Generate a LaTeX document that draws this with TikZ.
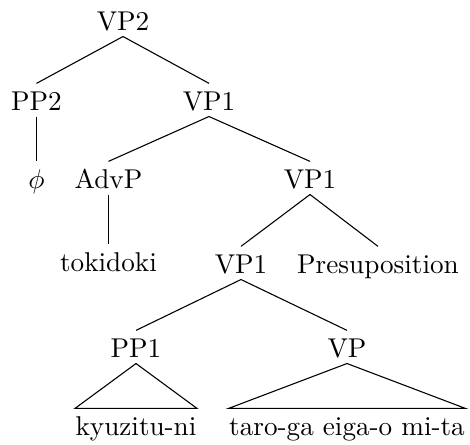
\documentclass[tikz,border=0pt]{standalone}
\begin{document}
\begin{tikzpicture}[x=0.368pt,y=-0.368pt,
  lbl/.style={inner sep=0pt,anchor=base,text height=9.6pt,text depth=2.2pt},
  edge/.style={line width=0.4pt}]
\useasboundingbox (0,0) rectangle (470,444);
\node[lbl] (vp2) at (123,30) {VP2};
\node[lbl] (pp2) at (36.5,110) {PP2};
\node[lbl] (vp1a) at (209,110) {VP1};
\node[lbl] (phi) at (36.5,188) {$\phi$};
\node[lbl] (advp) at (108.5,188) {AdvP};
\node[lbl] (vp1b) at (310,188) {VP1};
\node[lbl] (toki) at (108.5,271) {tokidoki};
\node[lbl] (vp1c) at (241,273) {VP1};
\node[lbl] (pres) at (378,273) {Presuposition};
\node[lbl] (pp1) at (136,357) {PP1};
\node[lbl] (vp) at (347,357) {VP};
\node[lbl] (kyu) at (136,435) {kyuzitu-ni};
\node[lbl] (taro) at (347,435) {taro-ga eiga-o mi-ta};
\draw[edge] (vp2.south) -- (pp2.north);
\draw[edge] (vp2.south) -- (vp1a.north);
\draw[edge] (pp2.south) -- (phi.north);
\draw[edge] (vp1a.south) -- (advp.north);
\draw[edge] (vp1a.south) -- (vp1b.north);
\draw[edge] (advp.south) -- (toki.north);
\draw[edge] (vp1b.south) -- (vp1c.north);
\draw[edge] (vp1b.south) -- (pres.north);
\draw[edge] (vp1c.south) -- (pp1.north);
\draw[edge] (vp1c.south) -- (vp.north);
\draw[edge] (pp1.south) -- (kyu.north west) -- (kyu.north east) -- cycle;
\draw[edge] (vp.south) -- (taro.north west) -- (taro.north east) -- cycle;
\end{tikzpicture}
\end{document}
